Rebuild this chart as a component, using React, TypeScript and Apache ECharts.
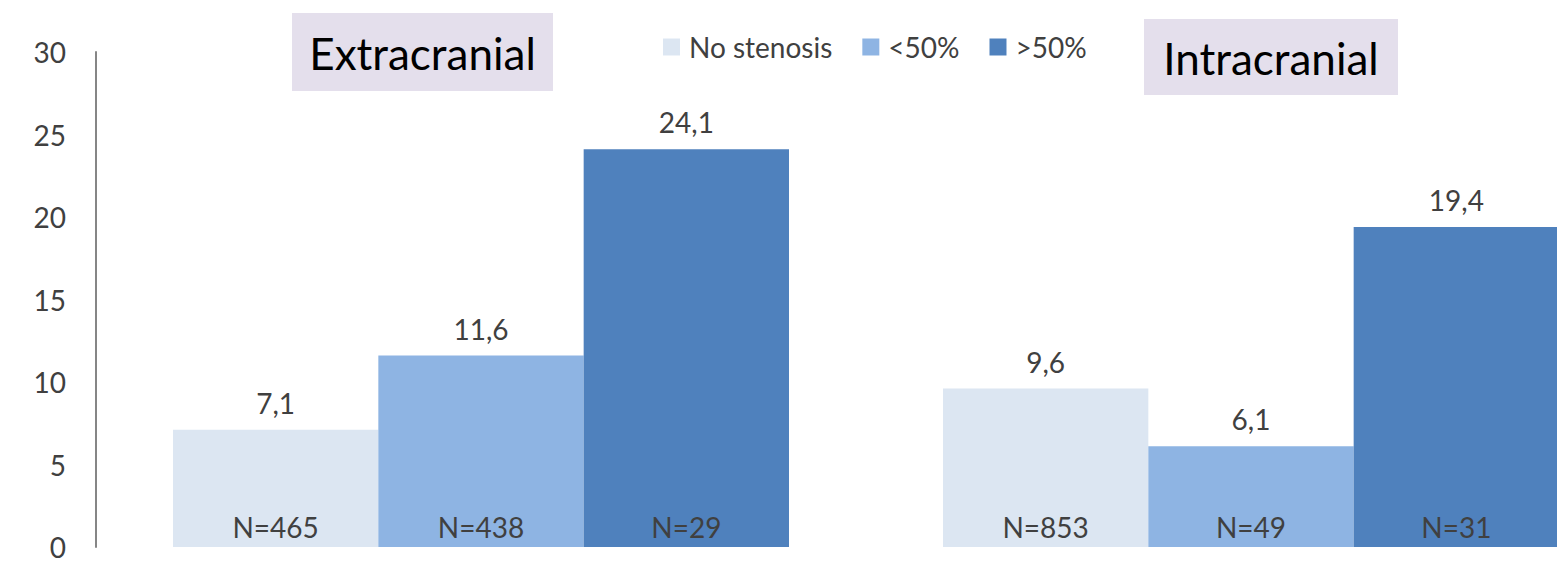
import React, { useEffect, useRef } from "react";
import * as echarts from "echarts";

// Groups along the x axis
const categories = ["Extracranial", "Intracranial"];

// Series (stenosis degree)
const seriesNames = ["No stenosis", "<50%", ">50%"];
const seriesColors = ["#dce6f2", "#8eb4e3", "#4f81bd"];

// Percentages per group
const noStenosisValues = [7.1, 9.6];
const below50Values = [11.6, 6.1];
const above50Values = [24.1, 19.4];

// Sample sizes per group
const noStenosisN = [465, 853];
const below50N = [438, 49];
const above50N = [29, 31];

// Y axis ticks
const yMin = 0;
const yMax = 30;
const yInterval = 5;

const FONT = "Lato, 'Open Sans', sans-serif";
const TEXT = "#404040";

const fmtValue = (v: number) => v.toFixed(1).replace(".", ",");

export default function App() {
  const ref = useRef<HTMLDivElement>(null);

  useEffect(() => {
    if (!ref.current) return;
    const chart = echarts.init(ref.current, undefined, { renderer: "svg" });

    const values = [noStenosisValues, below50Values, above50Values];
    const counts = [noStenosisN, below50N, above50N];

    const series: any[] = [];
    values.forEach((vals, i) => {
      // visible bar, sample size at the bottom
      series.push({
        type: "bar",
        name: seriesNames[i],
        stack: "s" + i,
        data: vals,
        itemStyle: { color: seriesColors[i] },
        label: {
          show: true,
          position: "insideBottom",
          distance: 6,
          color: TEXT,
          fontFamily: FONT,
          fontSize: 28,
          formatter: (p: any) => "N=" + counts[i][p.dataIndex],
        },
      });
      // zero-height cap carrying the value label above the bar
      series.push({
        type: "bar",
        name: "cap" + i,
        stack: "s" + i,
        data: vals.map(() => 0),
        itemStyle: { color: "transparent" },
        label: {
          show: true,
          position: "top",
          distance: 13,
          color: TEXT,
          fontFamily: FONT,
          fontSize: 28,
          formatter: (p: any) => fmtValue(vals[p.dataIndex]),
        },
        silent: true,
      });
    });
    // bars of one group touch each other
    series[series.length - 1].barGap = "0%";
    series[series.length - 1].barCategoryGap = "20%";

    const titleBox = (label: string, x: number, y: number, w: number, h: number) => ({
      type: "group",
      left: x,
      top: y,
      children: [
        { type: "rect", shape: { x: 0, y: 0, width: w, height: h }, style: { fill: "#e4dfec" } },
        {
          type: "text",
          x: w / 2,
          y: h / 2 + 1,
          style: {
            text: label,
            fill: "#000000",
            font: `44px ${FONT}`,
            textAlign: "center",
            textVerticalAlign: "middle",
          },
        },
      ],
    });

    chart.setOption({
      animation: false,
      backgroundColor: "#ffffff",
      textStyle: { fontFamily: FONT },
      grid: { left: 96, right: 0, top: 52, bottom: 9, containLabel: false },
      legend: {
        data: seriesNames,
        left: 658,
        top: 27,
        itemWidth: 17,
        itemHeight: 17,
        itemGap: 30,
        icon: "rect",
        textStyle: { color: TEXT, fontSize: 28, fontFamily: FONT, lineHeight: 30, padding: [0, 0, 0, 4] },
      },
      xAxis: {
        type: "category",
        data: categories,
        axisLine: { show: false },
        axisTick: { show: false },
        axisLabel: { show: false },
      },
      yAxis: {
        type: "value",
        min: yMin,
        max: yMax,
        interval: yInterval,
        axisLine: { show: true, lineStyle: { color: "#868686", width: 2 } },
        axisTick: { show: false },
        splitLine: { show: false },
        axisLabel: { color: TEXT, fontSize: 28, fontFamily: FONT, margin: 30 },
      },
      graphic: [
        titleBox(categories[0], 292, 13, 261, 78),
        titleBox(categories[1], 1144, 19, 254, 76),
      ],
      series,
    });

    return () => chart.dispose();
  }, []);

  return (
    <div
      style={{ position: "fixed", left: 0, top: 0, width: 1557, height: 561, overflow: "hidden", background: "#fff" }}
    >
      <div ref={ref} style={{ width: 1636, height: 561 }} />
    </div>
  );
}
